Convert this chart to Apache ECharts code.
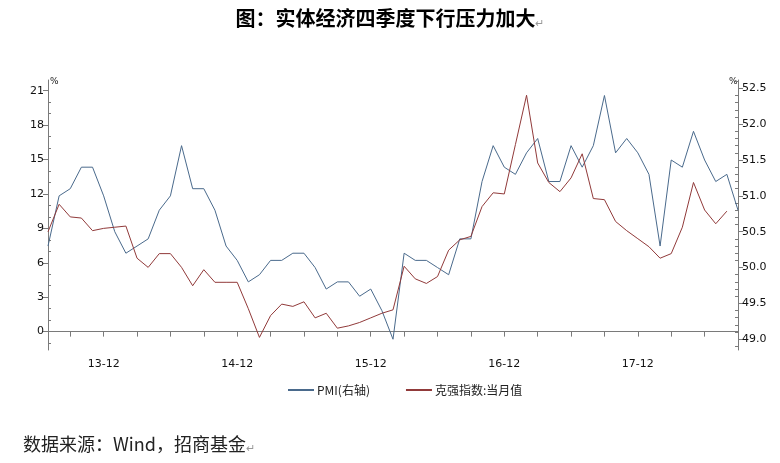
<!DOCTYPE html>
<html><head><meta charset="utf-8">
<script src="https://cdn.jsdelivr.net/npm/echarts@6/dist/echarts.min.js"></script>
<style>html,body{margin:0;padding:0;background:#fff}#c{width:780px;height:463px}</style>
</head><body><div id="c"></div>
<script>
const months = ['13-07','13-08','13-09','13-10','13-11','13-12',
 '14-01','14-02','14-03','14-04','14-05','14-06','14-07','14-08','14-09','14-10','14-11','14-12',
 '15-01','15-02','15-03','15-04','15-05','15-06','15-07','15-08','15-09','15-10','15-11','15-12',
 '16-01','16-02','16-03','16-04','16-05','16-06','16-07','16-08','16-09','16-10','16-11','16-12',
 '17-01','17-02','17-03','17-04','17-05','17-06','17-07','17-08','17-09','17-10','17-11','17-12',
 '18-01','18-02','18-03','18-04','18-05','18-06','18-07','18-08','18-09'];
const pmi = [50.3,51.0,51.1,51.4,51.4,51.0,
 50.5,50.2,50.3,50.4,50.8,51.0,51.7,51.1,51.1,50.8,50.3,50.1,
 49.8,49.9,50.1,50.1,50.2,50.2,50.0,49.7,49.8,49.8,49.6,49.7,
 49.4,49.0,50.2,50.1,50.1,50.0,49.9,50.4,50.4,51.2,51.7,51.4,
 51.3,51.6,51.8,51.2,51.2,51.7,51.4,51.7,52.4,51.6,51.8,51.6,
 51.3,50.3,51.5,51.4,51.9,51.5,51.2,51.3,50.8];
const keqiang = [8.7,11.1,10.0,9.9,8.8,9.0,
 9.1,9.2,6.4,5.6,6.8,6.8,5.6,4.0,5.4,4.3,4.3,4.3,
 2.0,-0.5,1.4,2.4,2.2,2.6,1.2,1.6,0.3,0.5,0.8,1.2,
 1.6,1.9,5.7,4.6,4.2,4.8,7.1,8.0,8.3,10.9,12.1,12.0,
 16.3,20.6,14.7,13.0,12.2,13.4,15.5,11.6,11.5,9.6,8.8,8.1,
 7.4,6.4,6.8,9.1,13.0,10.6,9.4,10.5];
const leftTicks = [0,3,6,9,12,15,18,21];
const rightTicks = [49.0,49.5,50.0,50.5,51.0,51.5,52.0,52.5];
const leftMinor = [-1,1,2,4,5,7,8,10,11,13,14,16,17,19,20];
const rightMinor = [];
for (let v = 489; v <= 526; v++) { if (v % 5 !== 0) rightMinor.push(v / 10); }
const seriesNames = ['PMI(右轴)', '克强指数:当月值'];

const LMIN = -1.6, LMAX = 21.93, RMIN = 48.85, RMAX = 52.616;
const axisColor = '#7a7a7a';
const lblFont = {color: '#111', fontSize: 11, fontFamily: 'DejaVu Sans'};

const chart = echarts.init(document.getElementById('c'), null, {renderer: 'canvas'});
chart.setOption({
  animation: false,
  backgroundColor: '#fff',
  title: [
    {text: '图：实体经济四季度下行压力加大{m|↵}', left: 'center', top: 3,
     textStyle: {fontSize: 20, fontWeight: 'bold', color: '#000', fontFamily: 'Noto Sans CJK SC',
       rich: {m: {fontSize: 11, color: '#999', fontWeight: 'normal', verticalAlign: 'bottom'}}}},
    {text: '数据来源：Wind，招商基金{m|↵}', left: 18, top: 430,
     textStyle: {fontSize: 18, fontWeight: 'normal', color: '#222', fontFamily: 'Noto Sans CJK SC',
       rich: {m: {fontSize: 11, color: '#999', verticalAlign: 'bottom'}}}}
  ],
  legend: {
    left: 283, top: 379, itemWidth: 26, itemHeight: 2, itemGap: 36,
    icon: 'rect',
    textStyle: {fontSize: 12, color: '#222', fontFamily: 'Noto Sans CJK SC', padding: [0,0,0,-2]},
    data: seriesNames
  },
  graphic: [
    {type: 'text', left: 50, top: 77, style: {text: '%', fontSize: 9, fill: '#222', fontFamily: 'DejaVu Sans'}},
    {type: 'text', left: 729, top: 77, style: {text: '%', fontSize: 9, fill: '#222', fontFamily: 'DejaVu Sans'}}
  ],
  grid: {left: 48, right: 42, top: 80, bottom: 113},
  xAxis: {
    type: 'category', data: months, boundaryGap: false,
    axisLine: {lineStyle: {color: axisColor, width: 1}},
    axisTick: {show: true, length: 5, lineStyle: {color: axisColor},
      interval: (i) => (i + 1) % 3 === 0},
    axisLabel: Object.assign({margin: 9, interval: (i, v) => v.endsWith('-12')}, lblFont),
    splitLine: {show: false}
  },
  yAxis: [
    {type: 'value', position: 'left', min: LMIN, max: LMAX,
     axisLine: {show: true, lineStyle: {color: axisColor}},
     axisTick: {show: true, length: 5, lineStyle: {color: axisColor}, customValues: leftTicks},
     axisLabel: Object.assign({margin: 4, customValues: leftTicks}, lblFont),
     splitLine: {show: false}},
    {type: 'value', position: 'left', min: LMIN, max: LMAX,
     axisLine: {show: false},
     axisTick: {show: true, inside: true, length: 3, lineStyle: {color: axisColor}, customValues: leftMinor},
     axisLabel: {show: false}, splitLine: {show: false}},
    {type: 'value', position: 'right', min: RMIN, max: RMAX,
     axisLine: {show: true, lineStyle: {color: axisColor}},
     axisTick: {show: true, length: 5, lineStyle: {color: axisColor}, customValues: rightTicks},
     axisLabel: Object.assign({margin: 4, customValues: rightTicks, formatter: v => v.toFixed(1)}, lblFont),
     splitLine: {show: false}},
    {type: 'value', position: 'right', min: RMIN, max: RMAX,
     axisLine: {show: false},
     axisTick: {show: true, inside: true, length: 3, lineStyle: {color: axisColor}, customValues: rightMinor},
     axisLabel: {show: false}, splitLine: {show: false}}
  ],
  series: [
    {name: seriesNames[0], type: 'line', yAxisIndex: 2, data: pmi, showSymbol: false,
     lineStyle: {color: '#4a6a8c', width: 1}, itemStyle: {color: '#4a6a8c'}},
    {name: seriesNames[1], type: 'line', yAxisIndex: 0, data: keqiang, showSymbol: false,
     lineStyle: {color: '#913a3a', width: 1}, itemStyle: {color: '#913a3a'}}
  ]
});
</script></body></html>
